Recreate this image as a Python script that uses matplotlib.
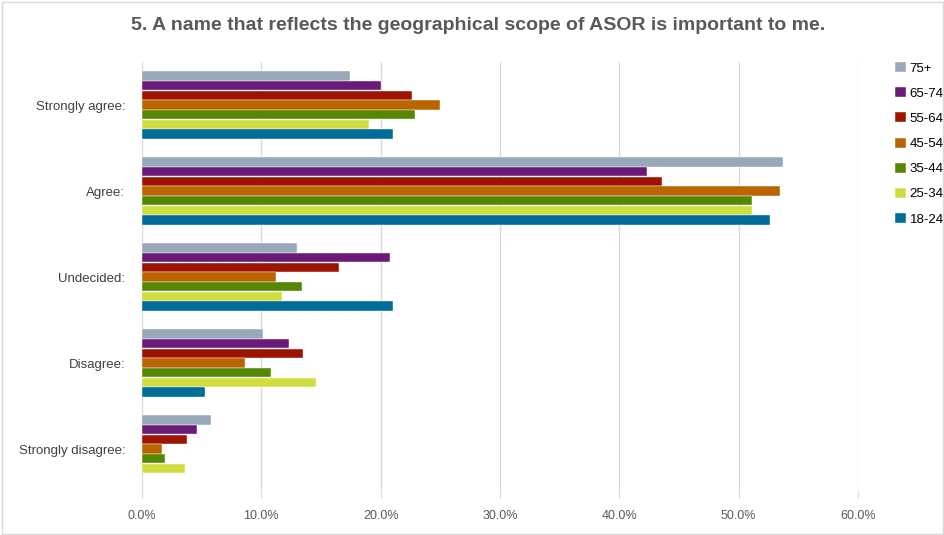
import numpy as np
import matplotlib
matplotlib.use("Agg")
import matplotlib.pyplot as plt
from matplotlib.patches import Rectangle

plt.rcParams["font.family"] = ["Liberation Sans", "DejaVu Sans"]

# Survey answers, top to bottom
categories = ["Strongly agree:", "Agree:", "Undecided:", "Disagree:", "Strongly disagree:"]

# Age groups, drawn top to bottom inside each group
age_groups = ["75+", "65-74", "55-64", "45-54", "35-44", "25-34", "18-24"]
colors = ["#97A8B9", "#6B1A78", "#9E1300", "#B96500", "#558700", "#D0DD41", "#006C9A"]

# Percent of respondents, one list per age group (same order as categories)
pct_75_plus = [17.4, 53.7, 13.0, 10.1, 5.8]
pct_65_74 = [20.0, 42.3, 20.8, 12.3, 4.6]
pct_55_64 = [22.6, 43.6, 16.5, 13.5, 3.8]
pct_45_54 = [25.0, 53.5, 11.2, 8.6, 1.7]
pct_35_44 = [22.9, 51.1, 13.4, 10.8, 1.9]
pct_25_34 = [19.0, 51.1, 11.7, 14.6, 3.6]
pct_18_24 = [21.0, 52.6, 21.0, 5.3, 0.0]

series = [pct_75_plus, pct_65_74, pct_55_64, pct_45_54, pct_35_44, pct_25_34, pct_18_24]
xticks = [0, 10, 20, 30, 40, 50, 60]

fig = plt.figure(figsize=(9.45, 5.35), dpi=100)
ax = fig.add_axes([142 / 945, 1 - 492 / 535, (858 - 142) / 945, (492 - 62) / 535])

n = len(age_groups)
bar_h = 0.113
y_base = np.arange(len(categories))
for i, (vals, col) in enumerate(zip(series, colors)):
    offs = (i - (n - 1) / 2) * bar_h
    ax.barh(y_base + offs, vals, height=bar_h * 0.97, color=col,
            edgecolor="white", linewidth=0.3, label=age_groups[i], zorder=3)

ax.set_ylim(len(categories) - 0.5, -0.5)
ax.set_xlim(0, 60)
ax.set_xticks(xticks)
ax.set_xticklabels([f"{t:.1f}%" for t in xticks], color="#595959", fontsize=9)
ax.set_yticks(y_base)
ax.set_yticklabels(categories, color="#404040", fontsize=9.5)
ax.tick_params(axis="y", length=0, pad=12)
ax.tick_params(axis="x", length=4, color="#D9D9D9", pad=9)
ax.xaxis.grid(True, color="#D9D9D9", linewidth=1, zorder=0)
for s in ax.spines.values():
    s.set_visible(False)

fig.suptitle("5. A name that reflects the geographical scope of ASOR is important to me.",
             x=478 / 945, y=1 - 25 / 535, va="center", fontsize=14, fontweight="bold",
             color="#595959")

leg = ax.legend(loc="upper left", bbox_to_anchor=(895 / 945, 1 - 62 / 535),
                bbox_transform=fig.transFigure, frameon=False, fontsize=9.5,
                borderpad=0, borderaxespad=0,
                handlelength=0.8, handleheight=0.8, handletextpad=0.3, labelspacing=0.95)

fig.patches.append(Rectangle((0.002, 0.002), 0.996, 0.994, transform=fig.transFigure,
                             fill=False, edgecolor="#D9D9D9", linewidth=1))

fig.savefig("out.png", dpi=100)
